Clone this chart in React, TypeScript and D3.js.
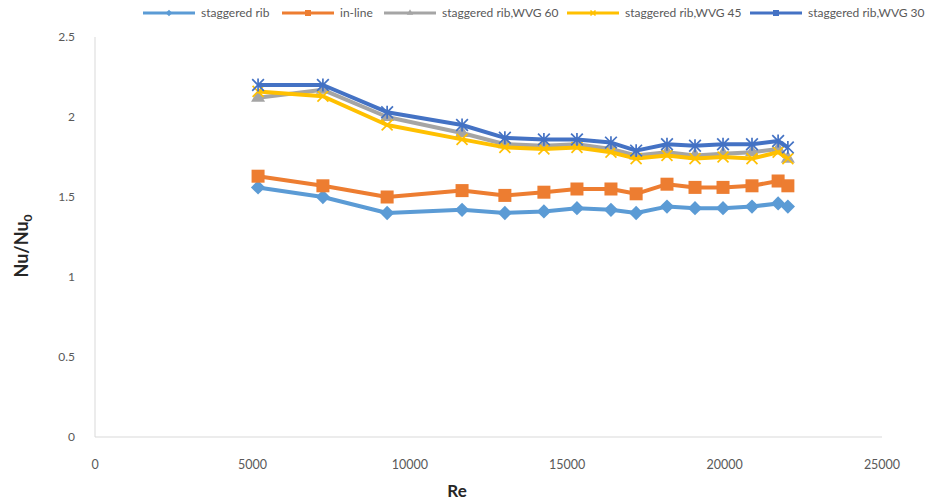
import React from "react";
import * as d3 from "d3";

const reValues = [5180, 7240, 9280, 11660, 13020, 14260, 15310, 16390, 17190, 18170, 19060, 19950, 20870, 21700, 22010];
const staggeredRib = [1.56, 1.50, 1.40, 1.42, 1.40, 1.41, 1.43, 1.42, 1.40, 1.44, 1.43, 1.43, 1.44, 1.46, 1.44];
const inLine = [1.63, 1.57, 1.50, 1.54, 1.51, 1.53, 1.55, 1.55, 1.52, 1.58, 1.56, 1.56, 1.57, 1.60, 1.57];
const wvg60 = [2.12, 2.17, 2.00, 1.90, 1.83, 1.82, 1.83, 1.80, 1.76, 1.78, 1.76, 1.77, 1.78, 1.80, 1.74];
const wvg45 = [2.16, 2.13, 1.95, 1.86, 1.81, 1.80, 1.81, 1.78, 1.74, 1.76, 1.74, 1.75, 1.74, 1.78, 1.74];
const wvg30 = [2.20, 2.20, 2.03, 1.95, 1.87, 1.86, 1.86, 1.84, 1.79, 1.83, 1.82, 1.83, 1.83, 1.85, 1.81];
const xTicks = [0, 5000, 10000, 15000, 20000, 25000];
const yTicks = [0, 0.5, 1, 1.5, 2, 2.5];

const seriesNames = ["staggered rib", "in-line", "staggered rib,WVG 60", "staggered rib,WVG 45", "staggered rib,WVG 30"];
const seriesData = [staggeredRib, inLine, wvg60, wvg45, wvg30];
const seriesColors = ["#5B9BD5", "#ED7D31", "#A5A5A5", "#FFC000", "#4472C4"];
const seriesMarkers = ["diamond", "square", "triangle", "x", "star"];
const legendX = [143, 282, 384, 567, 750];

function Marker({ type, x, y, color, s }: { type: string; x: number; y: number; color: string; s: number }) {
  if (type === "diamond") {
    const h = s * 0.55;
    const p = `M${x},${y - h}L${x + h},${y}L${x},${y + h}L${x - h},${y}Z`;
    return <path d={p} fill={color} />;
  }
  if (type === "square") {
    const h = s * 0.5;
    return <rect x={x - h} y={y - h} width={s} height={s} fill={color} />;
  }
  if (type === "triangle") {
    const p = d3.symbol().type(d3.symbolTriangle).size(s * s * 0.5)();
    return <path d={p || ""} transform={`translate(${x},${y})`} fill={color} />;
  }
  if (type === "x") {
    const h = s * 0.42;
    return (
      <g stroke={color} strokeWidth={1.7}>
        <line x1={x - h} y1={y - h} x2={x + h} y2={y + h} />
        <line x1={x - h} y1={y + h} x2={x + h} y2={y - h} />
      </g>
    );
  }
  const h = s * 0.45;
  return (
    <g stroke={color} strokeWidth={1.7}>
      <line x1={x - h} y1={y - h} x2={x + h} y2={y + h} />
      <line x1={x - h} y1={y + h} x2={x + h} y2={y - h} />
      <line x1={x} y1={y - h * 1.1} x2={x} y2={y + h * 1.1} />
    </g>
  );
}

export default function App() {
  const W = 925;
  const H = 500;
  const x = d3.scaleLinear().domain([0, 25000]).range([95, 882]);
  const y = d3.scaleLinear().domain([0, 2.5]).range([437, 37]);
  const line = d3
    .line<[number, number]>()
    .x((d) => x(d[0]))
    .y((d) => y(d[1]));
  const font = "Lato, 'Liberation Sans', Arial, sans-serif";

  return (
    <svg width={W} height={H} style={{ position: "absolute", left: 0, top: 0, background: "#fff" }} fontFamily={font}>
      <line x1={x(0)} y1={y(2.5)} x2={x(0)} y2={y(0)} stroke="#D9D9D9" strokeWidth={1} />
      <line x1={x(0)} y1={y(0)} x2={x(25000)} y2={y(0)} stroke="#D9D9D9" strokeWidth={1} />
      {yTicks.map((t) => (
        <text key={"y" + t} x={75} y={y(t) + 4} textAnchor="end" fontSize={12} fill="#595959">
          {t}
        </text>
      ))}
      {xTicks.map((t) => (
        <text key={"x" + t} x={x(t)} y={469} textAnchor="middle" fontSize={12.5} fill="#595959">
          {t}
        </text>
      ))}
      <text x={457} y={497} textAnchor="middle" fontSize={17} fontWeight="bold" fill="#262626">
        Re
      </text>
      <text transform="translate(28,246) rotate(-90)" textAnchor="middle" fontSize={18} fontWeight="bold" fill="#262626">
        Nu/Nu<tspan fontSize={12} dy={4}>0</tspan>
      </text>

      {seriesData.map((vals, i) => {
        const pts: [number, number][] = reValues.map((r, j) => [r, vals[j]]);
        return (
          <g key={"s" + i}>
            <path d={line(pts) || ""} fill="none" stroke={seriesColors[i]} strokeWidth={4} strokeLinejoin="round" />
            {pts.map((p, j) => (
              <Marker key={j} type={seriesMarkers[i]} x={x(p[0])} y={y(p[1])} color={seriesColors[i]} s={13} />
            ))}
          </g>
        );
      })}

      {seriesNames.map((n, i) => (
        <g key={"l" + i}>
          <line x1={legendX[i]} y1={13} x2={legendX[i] + 52} y2={13} stroke={seriesColors[i]} strokeWidth={3} />
          <Marker type={seriesMarkers[i] === "star" ? "square" : seriesMarkers[i]} x={legendX[i] + 26} y={13} color={seriesColors[i]} s={6} />
          <text x={legendX[i] + 58} y={17} fontSize={12} fill="#595959">
            {n}
          </text>
        </g>
      ))}
    </svg>
  );
}
